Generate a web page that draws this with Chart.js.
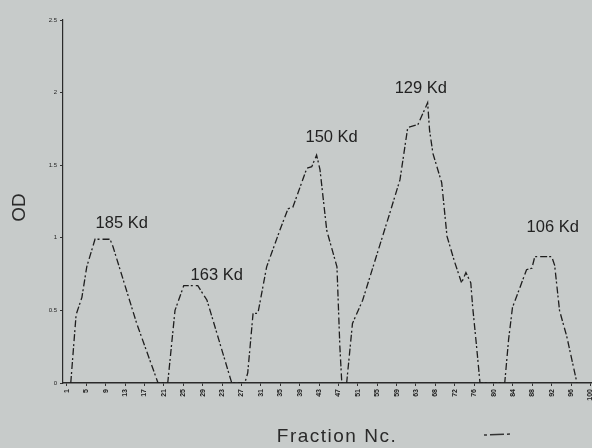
<!DOCTYPE html>
<html>
<head>
<meta charset="utf-8">
<script src="https://cdn.jsdelivr.net/npm/chart.js@4/dist/chart.umd.min.js"></script>
<style>
  html, body { margin: 0; padding: 0; background: #c7cbca; }
  #wrap { width: 592px; height: 448px; position: relative; }
</style>
</head>
<body>
<div id="wrap"><canvas id="c"></canvas></div>
<script>
// Tick labels shown every 4th fraction position
const tickLabels = ["1","5","9","13","17","21","25","29","23","27","31","35","39","43","47","51","55","59","63","68","72","76","80","84","88","92","96","100"];
const yTicks = [0, 0.5, 1, 1.5, 2, 2.5];

// Trace vertices: position along the fraction axis and OD
const fractionPos = [0.8, 1.9, 3.1, 4.1, 5.8, 8.9, 9.5, 14.4, 18.8, 20.8,
  22.3, 24.1, 27.0, 28.9, 34.0, 36.7, 37.3, 38.4, 39.4, 41.2,
  43.9, 45.6, 46.6, 49.5, 50.5, 51.5, 52.2, 53.6, 55.7, 56.3,
  56.7, 57.7, 58.9, 61.0, 66.6, 68.7, 70.3, 72.4, 74.4, 74.8,
  75.5, 77.3, 78.4, 80.0, 81.4, 82.3, 83.3, 83.7, 84.5, 85.2,
  90.3, 91.1, 91.9, 93.8, 94.8, 95.9, 96.5, 100.0, 100.6, 101.6,
  103.1, 105.2];
const odValues = [0, 0.47, 0.59, 0.80, 0.99, 0.99, 0.94, 0.41, 0, 0,
  0.50, 0.67, 0.67, 0.57, 0, 0, 0.07, 0.48, 0.48, 0.80,
  1.05, 1.20, 1.21, 1.48, 1.49, 1.57, 1.47, 1.05, 0.80, 0.25,
  0, 0, 0.41, 0.57, 1.17, 1.40, 1.76, 1.78, 1.93, 1.74,
  1.58, 1.38, 1.01, 0.83, 0.69, 0.76, 0.69, 0.52, 0.25, 0,
  0, 0.30, 0.52, 0.69, 0.78, 0.79, 0.87, 0.87, 0.81, 0.50,
  0.32, 0];

// Peak annotations
const peakLabels = ["185 Kd", "163 Kd", "150 Kd", "129 Kd", "106 Kd"];
const peakPos = [11.3, 30.9, 54.6, 73.0, 100.2];
const peakOD = [1.10, 0.74, 1.69, 2.03, 1.07];

const yTitle = "OD";
const xTitle = "Fraction Nc.";

const annot = {
  id: 'annot',
  afterDatasetsDraw(chart) {
    const ctx = chart.ctx, xs = chart.scales.x, ys = chart.scales.y;
    ctx.save();
    ctx.fillStyle = '#222';
    ctx.font = '16.5px "Liberation Sans", Arial, sans-serif';
    ctx.textAlign = 'center';
    ctx.textBaseline = 'middle';
    peakLabels.forEach((t, i) => {
      ctx.fillText(t, xs.getPixelForValue(peakPos[i]), ys.getPixelForValue(peakOD[i]));
    });
    // axis titles
    ctx.font = '19px "Liberation Sans", Arial, sans-serif';
    ctx.fillStyle = '#2a2a2a';
    ctx.save();
    ctx.translate(20, (chart.chartArea.top + chart.chartArea.bottom) / 2 + 6);
    ctx.rotate(-Math.PI / 2);
    ctx.fillText(yTitle, 0, 0);
    ctx.restore();
    ctx.save();
    ctx.letterSpacing = '1.5px';
    ctx.fillText(xTitle, 337, 437);
    ctx.restore();
    // legend symbol
    ctx.strokeStyle = '#333';
    ctx.lineWidth = 1.5;
    ctx.setLineDash([3, 3, 14, 3]);
    ctx.beginPath();
    ctx.moveTo(484, 435);
    ctx.lineTo(512, 434);
    ctx.stroke();
    ctx.restore();
  }
};

new Chart(document.getElementById('c'), {
  type: 'line',
  data: {
    datasets: [{
      data: fractionPos.map((x, i) => ({ x: x, y: odValues[i] })),
      borderColor: '#1e1e1e',
      borderWidth: 1.3,
      borderDash: [7, 2, 2, 3],
      pointRadius: 0,
      tension: 0,
      fill: false
    }]
  },
  options: {
    responsive: true,
    maintainAspectRatio: false,
    animation: false,
    layout: { padding: { top: 20, right: 0, left: 0, bottom: 0 } },
    plugins: { legend: { display: false }, tooltip: { enabled: false } },
    scales: {
      x: {
        type: 'linear',
        min: -0.8,
        max: 108.3,
        afterBuildTicks(scale) { scale.ticks = tickLabels.map((_, i) => ({ value: i * 4 })); },
        afterFit(scale) { scale.height = 65; scale.paddingRight = 0; scale.paddingLeft = 0; },
        ticks: {
          autoSkip: false,
          minRotation: 90,
          maxRotation: 90,
          padding: 3,
          color: '#222',
          font: { size: 7, weight: 'bold', family: '"Liberation Sans", Arial' },
          callback: (v) => tickLabels[Math.round(v / 4)]
        },
        grid: { drawOnChartArea: false, tickLength: 3, color: '#333' },
        border: { color: '#2a2a2a', width: 1.5 }
      },
      y: {
        min: 0,
        max: 2.5,
        afterBuildTicks(scale) { scale.ticks = yTicks.map(v => ({ value: v })); },
        afterFit(scale) { scale.width = 63; scale.paddingTop = 0; scale.paddingBottom = 0; },
        ticks: {
          padding: 3,
          color: '#222',
          font: { size: 6, family: '"Liberation Sans", Arial' },
          callback: (v) => String(v)
        },
        grid: { drawOnChartArea: false, tickLength: 3, color: '#333' },
        border: { color: '#2a2a2a', width: 1.2, dash: [10, 2] }
      }
    }
  },
  plugins: [annot]
});
</script>
</body>
</html>
